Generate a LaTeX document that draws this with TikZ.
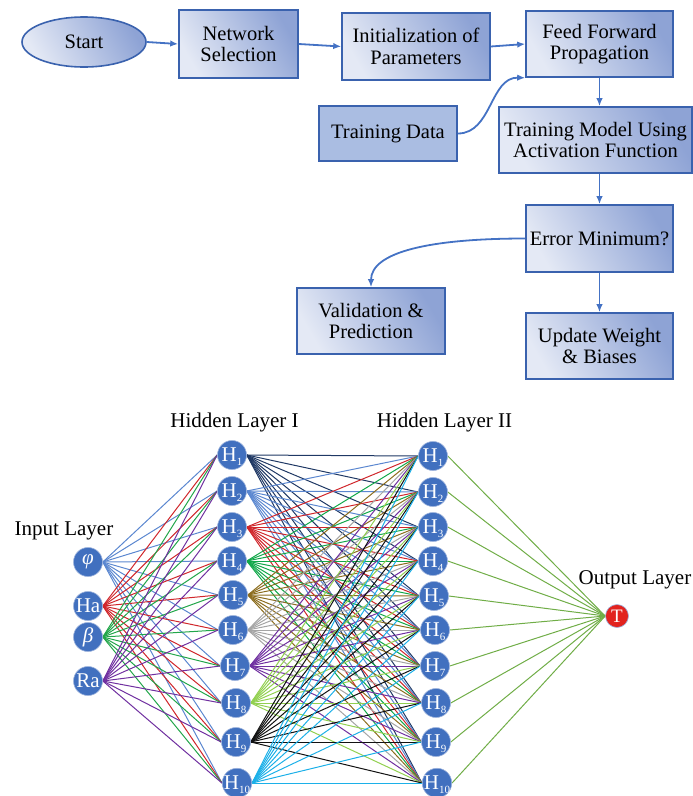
\documentclass[tikz,border=0pt]{standalone}
\usepackage{fontspec}
\setmainfont{Liberation Serif}
\usetikzlibrary{arrows.meta,shapes.geometric,backgrounds}
\definecolor{bordc}{HTML}{3A62AE}
\definecolor{flight}{HTML}{E4E9F5}
\definecolor{fdark}{HTML}{8EA3D5}
\definecolor{tdfill}{HTML}{AABDE2}
\definecolor{arrc}{HTML}{4472C4}
\definecolor{nodeb}{HTML}{4170BF}
\definecolor{ringc}{HTML}{9DB3DD}
\definecolor{tred}{HTML}{E2231F}
\definecolor{cphi}{HTML}{5B87D0}
\definecolor{cha}{HTML}{D0262B}
\definecolor{cbeta}{HTML}{22A64A}
\definecolor{cra}{HTML}{7030A0}
\definecolor{hA}{HTML}{1F3864}
\definecolor{hB}{HTML}{5B87D0}
\definecolor{hC}{HTML}{D0262B}
\definecolor{hD}{HTML}{12A84A}
\definecolor{hE}{HTML}{8C6D1F}
\definecolor{hF}{HTML}{A5A5A5}
\definecolor{hG}{HTML}{7030A0}
\definecolor{hH}{HTML}{92D050}
\definecolor{hI}{HTML}{111111}
\definecolor{hJ}{HTML}{1CB0E8}
\definecolor{tc}{HTML}{70AD47}
\newcommand\hsub[1]{H\smash{\raisebox{-4pt}{\fontsize{11}{11}\selectfont #1}}}
\tikzset{
  fbox/.style={draw=bordc, line width=1.6pt, left color=flight, right color=fdark,
    shading angle=120, align=center, inner sep=0pt,
    font=\fontsize{20.5}{21.5}\selectfont},
  flow/.style={draw=arrc, line width=1.8pt, -{Latex[length=8pt,width=6.5pt]}},
  nn/.style={circle, fill=nodeb, draw=ringc, line width=0.6pt, minimum size=29pt,
    inner sep=0pt, text=white, font=\fontsize{21}{21}\selectfont},
  lbl/.style={font=\fontsize{21}{21}\selectfont, anchor=base, inner sep=0pt},
  ed/.style={line width=1pt}
}
\begin{document}
\begin{tikzpicture}[x=1pt,y=-1pt]
\useasboundingbox (0,0) rectangle (693,796);
% ---------- flowchart ----------
\node[fbox, ellipse, minimum width=124pt, minimum height=50pt] (start) at (84,42) {Start};
\node[fbox, minimum width=119pt, minimum height=68pt] (net) at (238.5,44) {Network\\Selection};
\node[fbox, minimum width=148pt, minimum height=67pt] (init) at (416,46.5) {Initialization of\\Parameters};
\node[fbox, minimum width=147pt, minimum height=66pt] (feed) at (599.5,44) {Feed Forward\\Propagation};
\node[fbox, left color=tdfill, right color=tdfill, minimum width=138pt, minimum height=55pt] (tdata) at (388,133.5) {Training Data};
\node[fbox, minimum width=193pt, minimum height=66pt] (tmodel) at (595.5,140) {Training Model Using\\Activation Function};
\node[fbox, minimum width=147pt, minimum height=67pt] (err) at (599.5,238.5) {Error Minimum?};
\node[fbox, minimum width=148pt, minimum height=66pt] (valid) at (371,321) {Validation \&\\Prediction};
\node[fbox, minimum width=147pt, minimum height=66pt] (update) at (599.5,346) {Update Weight\\\& Biases};

\draw[flow] (start.east) -- (net.west);
\draw[flow] (net.east) -- (init.west);
\draw[flow] (init.east) -- (feed.west);
\draw[flow] (tdata.east) .. controls (492,133.5) and (490,77) .. (feed.south west);
\draw[flow] (feed.south) -- (feed.south |- tmodel.north);
\draw[flow] (err.north |- tmodel.south) -- (err.north);
\draw[flow] (err.south) -- (update.north);
\draw[flow] (err.west) .. controls (430,238.5) and (371,252) .. (valid.north);

% ---------- neural network ----------
\node[lbl] (linput) at (64,535) {Input Layer};
\node[lbl] (lh1) at (234.5,427) {Hidden Layer I};
\node[lbl] (lh2) at (444.5,427) {Hidden Layer II};
\node[lbl] (lout) at (635,584) {Output Layer};

\node[nn] (in1) at (88,562) {\textit{φ}};
\node[nn] (in2) at (88,606) {Ha};
\node[nn] (in3) at (88,637) {\textit{β}};
\node[nn] (in4) at (88,681) {Ra};

\foreach \i/\x/\y in {1/232/455, 2/232/491, 3/232/527, 4/232/561, 5/233/595,
                      6/233/630, 7/235/666, 8/236/703, 9/236/742, 10/237/783}
  \node[nn] (a\i) at (\x,\y) {\hsub{\i}};
\foreach \i/\x/\y in {1/433/456, 2/433/492, 3/433/527, 4/433/561, 5/434/596,
                      6/435/630, 7/435/666, 8/436/703, 9/436/742, 10/437/783}
  \node[nn] (b\i) at (\x,\y) {\hsub{\i}};
\node[nn, fill=tred, minimum size=23pt, font=\fontsize{19}{19}\selectfont] (T) at (617,616) {T};

\begin{pgfonlayer}{background}
\foreach \i/\c in {1/cphi, 2/cha, 3/cbeta, 4/cra}
  \foreach \j in {1,...,10}
    \draw[ed, \c] (in\i.east) -- (a\j.west);
\foreach \i/\c in {1/hA, 2/hB, 3/hC, 4/hD, 5/hE, 6/hF, 7/hG, 8/hH, 9/hI, 10/hJ}
  \foreach \j in {1,...,10}
    \draw[ed, \c] (a\i.east) -- (b\j.west);
\foreach \j in {1,...,10}
  \draw[ed, tc] (b\j.east) -- (T.west);
\end{pgfonlayer}
\end{tikzpicture}
\end{document}
